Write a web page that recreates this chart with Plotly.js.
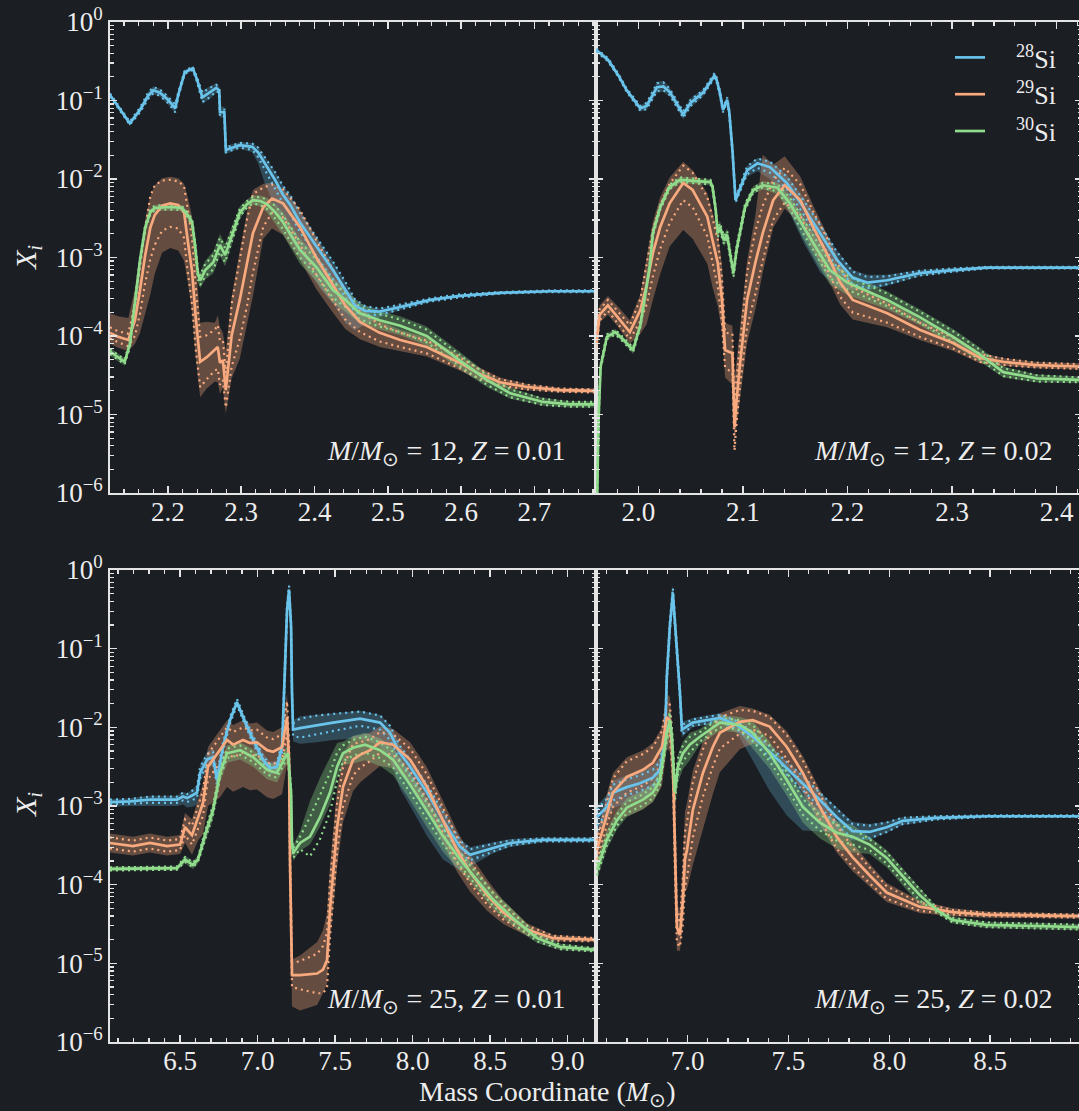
<!DOCTYPE html>
<html><head><meta charset="utf-8">
<script src="https://cdn.plot.ly/plotly-3.0.1.min.js"></script>
<style>html,body{margin:0;padding:0;background:#1b1e23;overflow:hidden;}#chart{width:1082px;height:1111px;}</style>
</head><body><div id="chart"></div><script>
// ---- data: mass coordinate (Msun) and log10 mass fractions; band / dotted half-widths in dex ----
// Panel A: M=12, Z=0.01
const a28_x = [2.121,2.135,2.148,2.162,2.173,2.180,2.189,2.200,2.210,2.214,2.223,2.234,2.240,2.247,2.257,2.266,2.270,2.271,2.277,2.279,2.298,2.315,2.323,2.332,2.346,2.357,2.367,2.380,2.394,2.408,2.425,2.442,2.455,2.469,2.489,2.517,2.558,2.598,2.653,2.721,2.784];
const a28_log = [-0.93,-1.12,-1.29,-1.12,-0.94,-0.87,-0.90,-0.99,-1.10,-0.93,-0.64,-0.59,-0.74,-0.96,-0.90,-0.84,-0.87,-1.15,-1.15,-1.63,-1.57,-1.59,-1.66,-1.80,-2.01,-2.20,-2.33,-2.55,-2.74,-2.94,-3.16,-3.41,-3.61,-3.68,-3.69,-3.63,-3.54,-3.49,-3.45,-3.43,-3.43];
const a28_up = [.03,.03,.03,.04,.05,.05,.05,.05,.06,.04,.03,.03,.04,.08,.08,.06,.05,.07,.07,.05,.04,.05,.07,.09,.11,.12,.13,.13,.13,.13,.12,.10,.08,.06,.04,.03,.02,.02,.02,.02,.02];
const a28_dn = [.03,.03,.03,.04,.05,.05,.05,.06,.06,.04,.03,.03,.04,.08,.08,.06,.05,.07,.07,.05,.04,.07,.14,.25,.34,.38,.42,.43,.46,.46,.42,.42,.32,.17,.07,.04,.03,.02,.02,.02,.02];
const a28_dot = [.02,.02,.02,.03,.04,.04,.04,.04,.05,.03,.02,.02,.03,.06,.06,.04,.03,.05,.05,.03,.03,.04,.06,.08,.10,.11,.12,.12,.12,.12,.11,.10,.08,.06,.04,.03,.02,.02,.01,.01,.01];

const a29_x = [2.121,2.132,2.146,2.155,2.162,2.169,2.176,2.182,2.192,2.203,2.214,2.222,2.227,2.233,2.238,2.244,2.253,2.264,2.268,2.271,2.275,2.279,2.287,2.298,2.308,2.316,2.330,2.342,2.357,2.380,2.403,2.425,2.442,2.462,2.489,2.517,2.553,2.598,2.622,2.653,2.690,2.735,2.784];
const a29_log = [-3.96,-4.01,-4.05,-3.80,-3.41,-2.97,-2.62,-2.46,-2.34,-2.31,-2.33,-2.42,-2.78,-3.18,-3.77,-4.33,-4.27,-4.18,-4.14,-4.34,-4.31,-4.69,-3.99,-3.54,-3.06,-2.69,-2.36,-2.25,-2.31,-2.61,-3.01,-3.35,-3.61,-3.82,-3.96,-4.05,-4.14,-4.34,-4.47,-4.59,-4.65,-4.69,-4.70];
const a29_up = [.25,.26,.28,.40,.45,.45,.40,.38,.35,.34,.34,.36,.55,.70,.75,.50,.45,.35,.40,.45,.35,.50,.50,.60,.65,.55,.30,.20,.18,.22,.25,.25,.22,.18,.15,.13,.12,.10,.08,.06,.04,.03,.03];
const a29_dn = [.14,.14,.14,.30,.55,.75,.85,.75,.60,.57,.58,.62,.52,.52,.50,.45,.40,.40,.45,.40,.35,.30,.55,.75,.80,.80,.40,.38,.40,.42,.40,.35,.30,.22,.18,.14,.12,.10,.08,.06,.04,.03,.03];
const a29_dot = [.07,.07,.08,.20,.30,.35,.40,.38,.32,.30,.30,.33,.40,.42,.40,.32,.28,.26,.28,.28,.25,.22,.40,.50,.55,.50,.25,.18,.18,.22,.22,.20,.18,.13,.11,.09,.08,.07,.06,.04,.03,.02,.02];

const a30_x = [2.121,2.132,2.141,2.148,2.155,2.162,2.169,2.176,2.182,2.196,2.210,2.219,2.227,2.233,2.237,2.241,2.244,2.251,2.262,2.271,2.278,2.285,2.292,2.298,2.308,2.316,2.326,2.335,2.346,2.357,2.380,2.403,2.425,2.442,2.462,2.489,2.517,2.553,2.598,2.635,2.667,2.712,2.749,2.784];
const a30_log = [-4.20,-4.27,-4.33,-4.11,-3.54,-3.03,-2.62,-2.42,-2.37,-2.36,-2.36,-2.37,-2.46,-2.55,-2.84,-3.22,-3.29,-3.16,-3.06,-2.84,-2.97,-2.78,-2.59,-2.43,-2.32,-2.27,-2.28,-2.32,-2.42,-2.55,-2.90,-3.13,-3.41,-3.54,-3.71,-3.80,-3.87,-4.00,-4.31,-4.56,-4.73,-4.84,-4.87,-4.87];
const a30_up = [.05,.05,.05,.06,.06,.05,.05,.04,.04,.04,.04,.04,.05,.06,.08,.10,.10,.12,.14,.14,.14,.12,.10,.08,.06,.06,.07,.08,.10,.12,.14,.15,.15,.14,.13,.12,.12,.12,.11,.09,.07,.05,.04,.04];
const a30_dn = [.05,.05,.05,.06,.06,.05,.05,.04,.04,.04,.04,.04,.05,.06,.08,.10,.10,.12,.14,.14,.14,.12,.10,.08,.06,.06,.07,.10,.14,.16,.18,.18,.17,.15,.13,.12,.12,.12,.11,.09,.07,.05,.04,.04];
const a30_dot = [.03,.03,.03,.04,.04,.03,.03,.03,.03,.03,.03,.03,.03,.04,.05,.06,.06,.08,.09,.09,.09,.08,.06,.05,.04,.04,.05,.06,.08,.09,.10,.10,.10,.09,.08,.08,.08,.08,.07,.06,.05,.04,.03,.03];

// Panel B: M=12, Z=0.02
const b28_x = [1.960,1.971,1.981,1.989,2.002,2.008,2.018,2.024,2.030,2.043,2.050,2.062,2.073,2.075,2.078,2.081,2.085,2.087,2.090,2.092,2.093,2.104,2.114,2.126,2.142,2.158,2.174,2.190,2.205,2.219,2.238,2.269,2.301,2.333,2.425];
const b28_log = [-0.36,-0.48,-0.68,-0.87,-1.10,-1.07,-0.83,-0.82,-0.89,-1.18,-1.03,-0.90,-0.68,-0.74,-0.90,-1.12,-0.99,-1.15,-1.63,-2.10,-2.27,-1.89,-1.80,-1.85,-2.05,-2.36,-2.69,-3.03,-3.26,-3.32,-3.29,-3.20,-3.16,-3.13,-3.13];
const b28_up = [.03,.03,.03,.03,.04,.05,.07,.07,.06,.06,.06,.05,.04,.04,.05,.05,.05,.05,.05,.05,.05,.06,.07,.08,.10,.12,.12,.12,.10,.10,.07,.04,.03,.02,.02];
const b28_dn = [.03,.03,.03,.03,.04,.05,.07,.07,.06,.06,.06,.05,.04,.04,.05,.05,.05,.05,.05,.05,.05,.08,.10,.15,.30,.45,.50,.35,.15,.10,.07,.04,.03,.02,.02];
const b28_dot = [.02,.02,.02,.02,.03,.04,.05,.05,.04,.04,.04,.03,.03,.03,.03,.03,.03,.03,.03,.03,.03,.05,.06,.07,.08,.09,.10,.10,.08,.07,.05,.03,.02,.01,.01];

const b29_x = [1.960,1.963,1.971,1.981,1.992,2.002,2.008,2.014,2.021,2.030,2.043,2.052,2.066,2.071,2.076,2.080,2.083,2.090,2.092,2.094,2.097,2.104,2.112,2.119,2.129,2.140,2.155,2.167,2.180,2.193,2.205,2.238,2.269,2.301,2.327,2.349,2.381,2.425];
const b29_log = [-4.11,-3.73,-3.61,-3.77,-3.95,-3.67,-3.35,-2.94,-2.61,-2.31,-2.05,-2.14,-2.48,-2.78,-3.07,-3.54,-4.18,-4.22,-5.16,-4.82,-4.39,-3.54,-3.06,-2.69,-2.27,-2.08,-2.27,-2.61,-2.94,-3.32,-3.54,-3.71,-3.92,-4.09,-4.28,-4.33,-4.37,-4.39];
const b29_up = [.10,.12,.12,.14,.15,.20,.35,.40,.38,.33,.27,.25,.30,.35,.40,.45,.35,.35,.60,.50,.45,.50,.60,1.0,.45,.37,.30,.28,.25,.25,.22,.18,.13,.10,.07,.05,.04,.04];
const b29_dn = [.10,.10,.12,.12,.15,.30,.50,.60,.60,.55,.60,.62,.60,.60,.55,.40,.35,.40,.20,.30,.40,.55,.60,.50,.35,.30,.30,.30,.30,.28,.25,.18,.13,.10,.07,.05,.04,.04];
const b29_dot = [.06,.07,.07,.08,.09,.14,.25,.30,.28,.25,.22,.22,.25,.28,.30,.28,.22,.25,.30,.28,.28,.35,.40,.35,.25,.22,.20,.20,.20,.18,.16,.12,.09,.07,.05,.04,.03,.03];

const b30_x = [1.960,1.962,1.964,1.970,1.978,1.986,1.995,2.002,2.006,2.011,2.014,2.021,2.030,2.040,2.059,2.069,2.071,2.074,2.076,2.078,2.082,2.085,2.088,2.091,2.094,2.097,2.102,2.110,2.119,2.133,2.145,2.158,2.171,2.183,2.200,2.215,2.238,2.269,2.301,2.327,2.349,2.381,2.425];
const b30_log = [-6.6,-5.07,-4.39,-4.01,-3.95,-4.05,-4.18,-3.86,-3.54,-3.10,-2.69,-2.36,-2.10,-2.01,-2.03,-2.04,-2.10,-2.39,-2.69,-2.61,-2.78,-2.71,-2.97,-3.20,-2.90,-2.69,-2.36,-2.14,-2.08,-2.11,-2.31,-2.61,-2.90,-3.16,-3.32,-3.41,-3.54,-3.76,-4.01,-4.24,-4.46,-4.54,-4.56];
const b30_up = [.05,.05,.05,.04,.04,.04,.05,.05,.05,.05,.05,.04,.04,.04,.04,.04,.05,.06,.08,.08,.08,.08,.08,.08,.08,.07,.06,.05,.05,.06,.08,.12,.14,.14,.13,.12,.11,.10,.10,.09,.07,.05,.04];
const b30_dn = [.05,.05,.05,.04,.04,.04,.05,.05,.05,.05,.05,.04,.04,.04,.04,.04,.05,.06,.08,.08,.08,.08,.08,.08,.08,.07,.06,.05,.05,.08,.12,.16,.18,.18,.16,.14,.12,.10,.10,.09,.07,.05,.04];
const b30_dot = [.03,.03,.03,.03,.03,.03,.03,.03,.03,.03,.03,.03,.03,.03,.03,.03,.03,.04,.05,.05,.05,.05,.05,.05,.05,.05,.04,.03,.03,.05,.07,.09,.10,.10,.09,.08,.08,.07,.07,.06,.05,.04,.03];

// Panel C: M=25, Z=0.01
const c28_x = [6.048,6.177,6.306,6.480,6.519,6.545,6.583,6.609,6.629,6.674,6.713,6.738,6.777,6.822,6.867,6.906,6.971,7.035,7.080,7.125,7.158,7.177,7.190,7.203,7.216,7.222,7.229,7.274,7.384,7.487,7.661,7.790,7.854,7.919,7.984,8.093,8.196,8.306,8.371,8.519,8.629,8.842,9.183];
const c28_log = [-2.95,-2.94,-2.92,-2.92,-2.88,-2.90,-2.86,-2.83,-2.58,-2.41,-2.38,-2.67,-2.25,-1.91,-1.68,-1.87,-2.16,-2.41,-2.52,-2.50,-2.25,-1.27,-0.51,-0.25,-0.72,-1.56,-2.03,-2.01,-1.97,-1.94,-1.89,-1.94,-2.07,-2.33,-2.50,-2.83,-3.18,-3.52,-3.62,-3.53,-3.47,-3.43,-3.43];
const c28_up = [.04,.04,.05,.05,.06,.06,.08,.10,.10,.10,.10,.10,.08,.06,.05,.06,.08,.08,.08,.08,.10,.10,.10,.08,.10,.10,.12,.15,.13,.12,.10,.10,.10,.10,.10,.12,.12,.10,.10,.07,.05,.03,.03];
const c28_dn = [.06,.06,.08,.08,.10,.12,.15,.15,.12,.10,.10,.10,.08,.06,.05,.06,.08,.08,.08,.08,.10,.10,.10,.08,.10,.10,.15,.20,.22,.22,.25,.30,.35,.45,.50,.55,.50,.30,.15,.07,.05,.03,.03];
const c28_dot = [.03,.03,.04,.04,.05,.05,.06,.07,.07,.07,.07,.07,.06,.04,.04,.04,.05,.05,.05,.05,.06,.06,.06,.05,.06,.06,.08,.12,.12,.11,.09,.09,.09,.09,.09,.10,.10,.08,.07,.05,.03,.02,.02];

const c29_x = [6.048,6.196,6.306,6.416,6.500,6.532,6.577,6.616,6.648,6.680,6.713,6.758,6.803,6.842,6.906,6.951,6.996,7.061,7.100,7.158,7.190,7.203,7.209,7.222,7.274,7.384,7.422,7.448,7.467,7.513,7.551,7.616,7.661,7.726,7.790,7.874,7.984,8.093,8.196,8.287,8.371,8.480,8.584,8.738,8.906,9.183];
const c29_log = [-3.47,-3.51,-3.47,-3.51,-3.49,-3.27,-3.37,-3.14,-2.96,-2.50,-2.41,-2.29,-2.16,-2.22,-2.16,-2.20,-2.19,-2.29,-2.31,-2.25,-1.87,-2.41,-3.68,-5.15,-5.15,-5.13,-5.08,-4.96,-4.32,-3.27,-2.76,-2.41,-2.35,-2.29,-2.19,-2.22,-2.41,-2.76,-3.18,-3.56,-3.84,-4.13,-4.35,-4.57,-4.68,-4.70];
const c29_up = [.12,.12,.12,.12,.12,.18,.20,.22,.25,.25,.25,.25,.25,.25,.25,.25,.25,.25,.25,.25,.30,.30,.30,.20,.25,.40,.50,.60,.55,.50,.40,.30,.25,.22,.20,.20,.22,.25,.25,.25,.22,.20,.15,.08,.04,.03];
const c29_dn = [.12,.12,.12,.12,.12,.20,.25,.30,.40,.50,.55,.60,.60,.60,.60,.60,.60,.60,.60,.60,.60,.30,.30,.40,.45,.40,.30,.30,.40,.50,.45,.40,.35,.30,.30,.30,.30,.30,.30,.28,.25,.20,.15,.08,.04,.03];
const c29_dot = [.07,.07,.07,.07,.07,.10,.12,.14,.16,.16,.16,.16,.16,.16,.16,.16,.16,.16,.16,.16,.20,.20,.20,.15,.18,.25,.30,.35,.35,.30,.25,.20,.16,.14,.13,.13,.14,.16,.16,.16,.14,.12,.09,.05,.03,.02];

const c30_x = [6.048,6.306,6.480,6.532,6.583,6.616,6.661,6.713,6.758,6.803,6.887,6.971,7.061,7.125,7.177,7.196,7.216,7.222,7.229,7.274,7.338,7.403,7.467,7.513,7.551,7.616,7.693,7.790,7.874,7.984,8.093,8.196,8.306,8.416,8.519,8.674,8.803,8.951,9.183];
const c30_log = [-3.80,-3.79,-3.79,-3.68,-3.75,-3.68,-3.37,-3.05,-2.58,-2.33,-2.29,-2.38,-2.54,-2.58,-2.38,-2.33,-2.83,-3.47,-3.60,-3.47,-3.39,-3.14,-2.83,-2.50,-2.33,-2.26,-2.22,-2.29,-2.41,-2.73,-3.07,-3.38,-3.68,-3.94,-4.19,-4.47,-4.68,-4.79,-4.83];
const c30_up = [.03,.03,.03,.05,.05,.05,.08,.10,.10,.10,.10,.10,.10,.10,.10,.10,.10,.10,.10,.15,.45,.50,.45,.30,.15,.15,.15,.15,.15,.15,.15,.15,.12,.12,.12,.10,.06,.04,.03];
const c30_dn = [.03,.03,.03,.05,.05,.05,.10,.12,.12,.12,.12,.12,.12,.12,.12,.12,.10,.10,.10,.10,.10,.12,.15,.15,.15,.20,.20,.20,.20,.20,.20,.20,.15,.12,.12,.10,.06,.04,.03];
const c30_dot = [.02,.02,.02,.03,.03,.03,.05,.06,.06,.06,.06,.06,.06,.06,.06,.06,.06,.06,.06,.08,.25,.28,.25,.18,.10,.10,.10,.10,.10,.10,.10,.10,.08,.08,.08,.06,.04,.03,.02];

// Panel D: M=25, Z=0.02
const d28_x = [6.551,6.600,6.630,6.699,6.764,6.828,6.863,6.888,6.897,6.912,6.927,6.942,6.952,6.962,6.972,7.026,7.160,7.244,7.323,7.407,7.492,7.571,7.655,7.739,7.818,7.902,7.987,8.066,8.234,8.482,8.955];
const d28_log = [-3.14,-3.01,-2.83,-2.76,-2.71,-2.64,-2.54,-2.16,-1.36,-0.72,-0.29,-0.85,-1.14,-1.56,-2.03,-1.94,-1.88,-1.97,-2.12,-2.31,-2.52,-2.71,-2.92,-3.14,-3.32,-3.33,-3.27,-3.19,-3.15,-3.13,-3.13];
const d28_up = [.15,.15,.15,.15,.15,.15,.15,.10,.10,.10,.10,.10,.10,.10,.10,.06,.06,.06,.07,.08,.08,.10,.10,.12,.12,.10,.07,.05,.03,.02,.02];
const d28_dn = [.20,.20,.20,.20,.20,.20,.20,.10,.10,.10,.10,.10,.10,.10,.10,.06,.06,.10,.30,.50,.60,.60,.40,.20,.12,.10,.07,.05,.03,.02,.02];
const d28_dot = [.10,.10,.10,.10,.10,.10,.10,.06,.06,.06,.06,.06,.06,.06,.06,.04,.04,.05,.06,.07,.08,.09,.09,.10,.09,.08,.06,.04,.02,.01,.01];

const d29_x = [6.551,6.600,6.630,6.699,6.779,6.828,6.873,6.897,6.912,6.927,6.937,6.947,6.962,6.977,6.987,6.997,7.026,7.076,7.125,7.160,7.259,7.323,7.407,7.492,7.571,7.655,7.739,7.818,7.902,7.987,8.150,8.313,8.482,8.955];
const d29_log = [-3.56,-3.09,-2.83,-2.63,-2.54,-2.45,-2.25,-1.87,-1.91,-2.41,-3.60,-4.54,-4.64,-4.19,-3.68,-3.56,-3.05,-2.58,-2.25,-2.07,-1.93,-1.91,-1.99,-2.25,-2.58,-3.01,-3.39,-3.65,-3.88,-4.10,-4.28,-4.35,-4.38,-4.40];
const d29_up = [.20,.25,.25,.25,.25,.25,.25,.30,.30,.30,.30,.30,.30,.50,.60,.60,.50,.40,.30,.25,.20,.15,.15,.20,.22,.22,.20,.18,.15,.12,.08,.05,.04,.03];
const d29_dn = [.20,.35,.40,.50,.50,.50,.50,.40,.40,.50,.50,.30,.20,.30,.40,.50,.70,.70,.60,.50,.35,.30,.25,.25,.25,.22,.20,.18,.15,.12,.08,.05,.04,.03];
const d29_dot = [.12,.15,.18,.20,.20,.20,.20,.20,.20,.20,.20,.20,.15,.30,.35,.35,.35,.30,.25,.20,.15,.12,.12,.15,.16,.16,.15,.12,.10,.08,.05,.03,.02,.02];

const d30_x = [6.551,6.600,6.650,6.699,6.779,6.828,6.863,6.897,6.912,6.922,6.937,6.952,6.977,7.011,7.061,7.160,7.259,7.323,7.407,7.492,7.571,7.655,7.739,7.818,7.902,7.987,8.066,8.150,8.234,8.313,8.482,8.955];
const d30_log = [-3.81,-3.43,-3.18,-3.02,-2.92,-2.83,-2.67,-2.07,-1.91,-2.10,-2.83,-2.50,-2.33,-2.22,-2.12,-1.94,-1.97,-2.07,-2.33,-2.67,-3.01,-3.21,-3.34,-3.39,-3.49,-3.66,-3.89,-4.13,-4.32,-4.45,-4.51,-4.54];
const d30_up = [.12,.12,.12,.12,.12,.12,.12,.15,.15,.15,.15,.15,.15,.15,.10,.10,.10,.15,.15,.15,.15,.15,.15,.15,.10,.10,.10,.10,.04,.04,.04,.04];
const d30_dn = [.12,.12,.12,.12,.12,.12,.12,.20,.20,.20,.20,.20,.20,.20,.10,.10,.10,.20,.20,.20,.20,.20,.20,.20,.12,.12,.12,.12,.04,.04,.04,.04];
const d30_dot = [.07,.07,.07,.07,.07,.07,.07,.10,.10,.10,.10,.10,.10,.10,.06,.06,.06,.10,.10,.10,.10,.10,.10,.10,.07,.07,.07,.07,.03,.03,.03,.03];

// tick labels & panel labels
const yTickVals = [1e-6,1e-5,1e-4,1e-3,1e-2,1e-1,1];
const yTickText = ['10<sup>\u22126</sup>','10<sup>\u22125</sup>','10<sup>\u22124</sup>','10<sup>\u22123</sup>','10<sup>\u22122</sup>','10<sup>\u22121</sup>','10<sup>0</sup>'];
const panelLabels = ['<i>M</i>/<i>M</i><sub>\u2299</sub> = 12, <i>Z</i> = 0.01','<i>M</i>/<i>M</i><sub>\u2299</sub> = 12, <i>Z</i> = 0.02','<i>M</i>/<i>M</i><sub>\u2299</sub> = 25, <i>Z</i> = 0.01','<i>M</i>/<i>M</i><sub>\u2299</sub> = 25, <i>Z</i> = 0.02'];
const isoNames = ['\u2003<sup>28</sup>Si','\u2003<sup>29</sup>Si','\u2003<sup>30</sup>Si'];

// ---- styling ----
const FONT = '"Liberation Serif", "Times New Roman", Times, serif';
const BG = '#1b1e23', TXT = '#ededed', AX = '#e4e4e4';
const COL = ['#6ac3ea','#f8aa7e','#90dc8c'];
const FILL = ['rgba(106,195,234,0.27)','rgba(248,170,126,0.33)','rgba(144,220,140,0.33)'];

const bands = [], dots = [], solids = [];
function p10(a){ return a.map(v => Math.pow(10, v)); }
function addSeries(n, k, x, mid, up, dn, dot, leg){
  const xa = n === 1 ? 'x' : 'x' + n, ya = n === 1 ? 'y' : 'y' + n;
  const hi = mid.map((v,i) => v + up[i]);
  const lo = mid.map((v,i) => v - dn[i]);
  bands.push({type:'scatter', mode:'lines', x: x.concat(x.slice().reverse()), y: p10(hi.concat(lo.slice().reverse())),
    fill:'toself', fillcolor: FILL[k], line:{width:0, color: FILL[k]}, xaxis: xa, yaxis: ya, hoverinfo:'skip', showlegend:false});
  [1,-1].forEach(s => dots.push({type:'scatter', mode:'lines', x: x, y: p10(mid.map((v,i) => v + s*dot[i])),
    line:{color: COL[k], width:2.2, dash:'2px,4px'}, xaxis: xa, yaxis: ya, hoverinfo:'skip', showlegend:false}));
  solids.push({type:'scatter', mode:'lines', x: x, y: p10(mid), name: isoNames[k], legendgroup: 'g'+k,
    line:{color: COL[k], width:2.7}, xaxis: xa, yaxis: ya, showlegend: leg});
}
addSeries(1,0,a28_x,a28_log,a28_up,a28_dn,a28_dot,false);
addSeries(1,1,a29_x,a29_log,a29_up,a29_dn,a29_dot,false);
addSeries(1,2,a30_x,a30_log,a30_up,a30_dn,a30_dot,false);
addSeries(2,0,b28_x,b28_log,b28_up,b28_dn,b28_dot,true);
addSeries(2,1,b29_x,b29_log,b29_up,b29_dn,b29_dot,true);
addSeries(2,2,b30_x,b30_log,b30_up,b30_dn,b30_dot,true);
addSeries(3,0,c28_x,c28_log,c28_up,c28_dn,c28_dot,false);
addSeries(3,1,c29_x,c29_log,c29_up,c29_dn,c29_dot,false);
addSeries(3,2,c30_x,c30_log,c30_up,c30_dn,c30_dot,false);
addSeries(4,0,d28_x,d28_log,d28_up,d28_dn,d28_dot,false);
addSeries(4,1,d29_x,d29_log,d29_up,d29_dn,d29_dot,false);
addSeries(4,2,d30_x,d30_log,d30_up,d30_dn,d30_dot,false);

const minorY = [];
for (let e = -6; e < 0; e++) for (let m = 2; m <= 9; m++) minorY.push(m * Math.pow(10, e));
function tf(){ return {family: FONT, size: 27, color: TXT}; }

function yAxis(dom, labels, anchor){
  return {type:'log', domain: dom, range:[-6,0], anchor: anchor, tickmode:'array', tickvals: yTickVals, ticktext: yTickText,
    showticklabels: labels, ticks:'inside', ticklen:7, tickwidth:1.5, tickcolor: AX,
    minor:{tickmode:'array', tickvals: minorY, ticks:'inside', ticklen:4, tickwidth:1.2, tickcolor: AX},
    showline:true, linecolor: AX, linewidth:1.8, mirror:'allticks', showgrid:false, zeroline:false, tickfont: tf(), fixedrange:true};
}
function xAxis(dom, range, dtick, mdt, anchor){
  return {domain: dom, range: range, anchor: anchor, tick0:0, dtick: dtick, tickformat:'.1f',
    ticks:'inside', ticklen:7, tickwidth:1.5, tickcolor: AX, ticklabelstandoff: -6,
    minor:{tick0:0, dtick: mdt, ticks:'inside', ticklen:4, tickwidth:1.2, tickcolor: AX},
    showline:true, linecolor: AX, linewidth:1.8, mirror:'allticks', showgrid:false, zeroline:false, tickfont: tf(), fixedrange:true};
}
const W = 1082, H = 1111;
const dxL = [110/W, 596/W], dxR = [596/W, 1];
const dyT = [1-493/H, 1-22/H], dyB = [1-1042/H, 1-570/H];

const ann = [];
const lblPos = [[568, 452],[1055, 452],[568, 1000],[1055, 1000]];
panelLabels.forEach((t,i) => ann.push({xref:'paper', yref:'paper', x: lblPos[i][0]/W, y: 1-lblPos[i][1]/H, xanchor:'right', yanchor:'middle',
  text: t, showarrow:false, font:{family: FONT, size:28, color: TXT}}));
ann.push({xref:'paper', yref:'paper', x: 28/W, y: 1-258/H, textangle:-90, text:'<i>X<sub>i</sub></i>', showarrow:false, xanchor:'center', yanchor:'middle', font:{family: FONT, size:30, color: TXT}});
ann.push({xref:'paper', yref:'paper', x: 28/W, y: 1-805/H, textangle:-90, text:'<i>X<sub>i</sub></i>', showarrow:false, xanchor:'center', yanchor:'middle', font:{family: FONT, size:30, color: TXT}});
ann.push({xref:'paper', yref:'paper', x: 547/W, y: 1-1093/H, text:'Mass Coordinate (<i>M</i><sub>\u2299</sub>)', showarrow:false, xanchor:'center', yanchor:'middle', font:{family: FONT, size:28, color: TXT}});

const layout = {
  width: W, height: H, margin:{l:0, r:0, t:0, b:0}, paper_bgcolor: BG, plot_bgcolor: BG,
  font:{family: FONT, size: 27, color: TXT},
  showlegend:true,
  legend:{x: 950/W, y: 1-34/H, xanchor:'left', yanchor:'top', bgcolor:'rgba(0,0,0,0)', borderwidth:0,
    font:{family: FONT, size:26, color: TXT}, tracegroupgap: 10, traceorder:'normal'},
  xaxis: xAxis(dxL, [2.121, 2.784], 0.1, 0.02, 'y'),
  yaxis: yAxis(dyT, true, 'x'),
  xaxis2: xAxis(dxR, [1.9596, 2.4242], 0.1, 0.02, 'y2'),
  yaxis2: yAxis(dyT, false, 'x2'),
  xaxis3: xAxis(dxL, [6.048, 9.183], 0.5, 0.1, 'y3'),
  yaxis3: yAxis(dyB, true, 'x3'),
  xaxis4: xAxis(dxR, [6.546, 8.9554], 0.5, 0.1, 'y4'),
  yaxis4: yAxis(dyB, false, 'x4'),
  annotations: ann
};
Plotly.newPlot('chart', bands.concat(dots, solids), layout, {displayModeBar:false, staticPlot:true});
</script></body></html>
